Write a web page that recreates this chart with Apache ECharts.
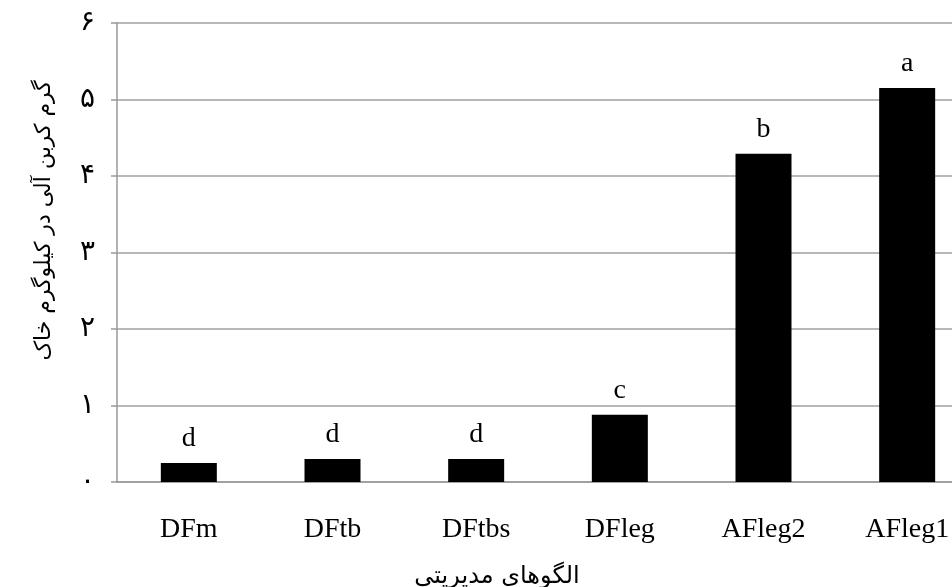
<!DOCTYPE html>
<html>
<head>
<meta charset="utf-8">
<script src="https://cdn.jsdelivr.net/npm/echarts@6/dist/echarts.min.js"></script>
<style>html,body{margin:0;padding:0;background:#fff;overflow:hidden;width:952px;height:587px;}#c{width:979px;height:587px;}</style>
</head>
<body>
<div id="c"></div>
<script>
const categories = ['DFm', 'DFtb', 'DFtbs', 'DFleg', 'AFleg2', 'AFleg1'];
const values = [0.25, 0.30, 0.30, 0.88, 4.29, 5.15];
const letters = ['d', 'd', 'd', 'c', 'b', 'a'];
const yTickLabels = ['۰', '۱', '۲', '۳', '۴', '۵', '۶'];
const yAxisTitle = 'گرم کربن آلی در کیلوگرم خاک';
const xAxisTitle = 'الگوهای مدیریتی';

const chart = echarts.init(document.getElementById('c'));
chart.setOption({
  animation: false,
  backgroundColor: '#fff',
  grid: { left: 117, top: 23, right: 0, bottom: 105, outerBoundsMode: 'none', containLabel: false },
  xAxis: {
    type: 'category',
    data: categories,
    name: xAxisTitle,
    nameLocation: 'middle',
    nameGap: 83,
    nameTextStyle: { fontFamily: 'DejaVu Sans', fontSize: 24, color: '#000', padding: [0, 102, 0, 0] },
    axisLine: { lineStyle: { color: '#999', width: 1.5 } },
    axisTick: { length: 10, lineStyle: { color: '#999', width: 1.5 } },
    axisLabel: { fontFamily: 'Liberation Serif', fontSize: 28, color: '#000', margin: 34 }
  },
  yAxis: {
    type: 'value',
    min: 0, max: 6, interval: 1,
    name: yAxisTitle,
    nameLocation: 'middle',
    nameGap: 62,
    nameTextStyle: { fontFamily: 'DejaVu Sans', fontSize: 22, color: '#000', padding: [0, 0, 0, 64] },
    axisLine: { show: true, lineStyle: { color: '#999', width: 1.5 } },
    axisTick: { show: true, length: 6, lineStyle: { color: '#999', width: 1.5 } },
    splitLine: { lineStyle: { color: '#a0a0a0', width: 1.5 } },
    axisLabel: {
      fontFamily: 'DejaVu Sans', fontSize: 28, color: '#000', margin: 22,
      formatter: v => yTickLabels[Math.round(v)]
    }
  },
  series: [{
    type: 'bar',
    data: values,
    barWidth: 56,
    itemStyle: { color: '#000' },
    label: {
      show: true,
      position: 'top',
      distance: 10,
      fontFamily: 'Liberation Serif',
      fontSize: 28,
      color: '#000',
      formatter: p => letters[p.dataIndex]
    }
  }]
});
</script>
</body>
</html>
